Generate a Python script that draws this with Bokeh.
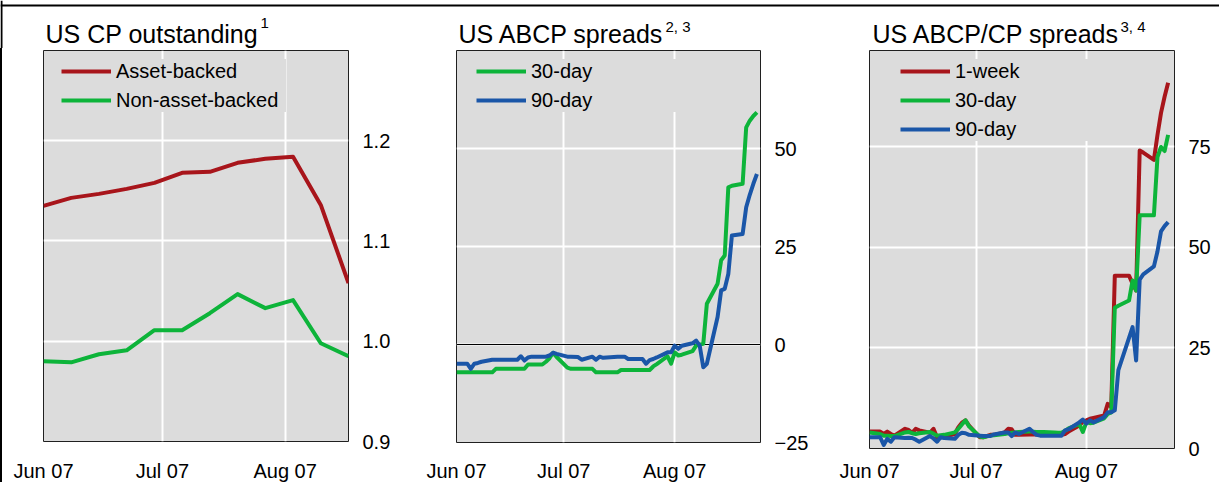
import pandas as pd
from bokeh.plotting import figure
from bokeh.models import (Range1d, FixedTicker, DatetimeTickFormatter, Legend,
                          LegendItem, Label, Span, ColumnDataSource)
from bokeh.layouts import column, row
from bokeh.embed import file_html
from bokeh.resources import INLINE

# ---------------- data ----------------
weekly_dates = ["2007-06-01", "2007-06-08", "2007-06-15", "2007-06-22", "2007-06-29",
                "2007-07-06", "2007-07-13", "2007-07-20", "2007-07-27", "2007-08-03",
                "2007-08-10", "2007-08-17"]
cp_asset_backed = [1.135, 1.143, 1.147, 1.152, 1.158, 1.168, 1.169, 1.178, 1.182, 1.184, 1.136, 1.058]
cp_non_asset_backed = [0.980, 0.979, 0.987, 0.991, 1.011, 1.011, 1.028, 1.047, 1.033, 1.041, 0.998, 0.985]

daily_dates = ["2007-06-01", "2007-06-04", "2007-06-05", "2007-06-06", "2007-06-07", "2007-06-08",
               "2007-06-11", "2007-06-12", "2007-06-13", "2007-06-14", "2007-06-15",
               "2007-06-18", "2007-06-19", "2007-06-20", "2007-06-21", "2007-06-22",
               "2007-06-25", "2007-06-26", "2007-06-27", "2007-06-28", "2007-06-29",
               "2007-07-02", "2007-07-03", "2007-07-05", "2007-07-06",
               "2007-07-09", "2007-07-10", "2007-07-11", "2007-07-12", "2007-07-13",
               "2007-07-16", "2007-07-17", "2007-07-18", "2007-07-19", "2007-07-20",
               "2007-07-23", "2007-07-24", "2007-07-25", "2007-07-26", "2007-07-27",
               "2007-07-30", "2007-07-31", "2007-08-01", "2007-08-02", "2007-08-03",
               "2007-08-06", "2007-08-07", "2007-08-08", "2007-08-09", "2007-08-10",
               "2007-08-13", "2007-08-14", "2007-08-15", "2007-08-16", "2007-08-17",
               "2007-08-20", "2007-08-21", "2007-08-22", "2007-08-23", "2007-08-24"]

abcp_spread_30d = [-7.1, -7.1, -7.1, -7.1, -7.1, -7.1, -7.1, -6.2, -6.2, -6.2, -6.2,
                   -6.2, -6.2, -6.2, -5.1, -5.1, -5.1, -4.4, -3.5, -2.1, -3.2,
                   -5.9, -6.2, -6.2, -6.2, -6.2, -7.1, -7.1, -7.1, -7.1,
                   -7.1, -6.5, -6.5, -6.5, -6.5, -6.5, -6.5, -6.5, -5.6, -5.0,
                   -3.0, -4.9, -2.0, -2.8, -2.6, -1.7, -0.3, 0.0, 0.2, 10.4,
                   15.5, 21.5, 22.7, 40.1, 40.5, 41.0, 55.4, 57.1, 58.3, 59.2]
abcp_spread_90d = [-4.9, -4.9, -6.2, -4.9, -4.7, -4.4, -3.9, -3.9, -3.9, -3.9, -3.9,
                   -3.9, -3.0, -4.1, -3.3, -3.1, -3.1, -3.1, -2.8, -2.1, -2.4,
                   -3.1, -3.1, -3.2, -3.9, -3.1, -3.9, -3.1, -3.4, -3.3,
                   -3.1, -3.1, -3.1, -3.7, -3.7, -3.7, -4.9, -4.0, -3.7, -3.3,
                   -2.0, -2.0, -0.3, -1.1, -0.3, 0.3, 1.0, -0.3, -5.8, -4.9,
                   7.0, 13.8, 14.2, 18.0, 27.8, 28.2, 35.0, 38.2, 41.0, 43.5]

abcp_cp_1w = [4.2, 4.2, 3.6, 4.2, 3.6, 3.2, 4.9, 4.6, 3.9, 4.9, 4.5,
              3.9, 4.9, 2.8, 2.8, 3.0, 3.6, 5.3, 6.4, 7.0, 5.7,
              2.8, 2.8, 3.4, 3.4, 4.0, 4.9, 4.8, 3.4, 3.4,
              3.5, 3.5, 3.5, 3.5, 3.5, 3.4, 3.4, 3.4, 3.6, 4.2,
              5.7, 6.7, 7.0, 7.4, 7.6, 8.2, 11.1, 10.3, 43.0, 43.0,
              43.0, 41.0, 39.3, 74.1, 73.6, 71.8, 78.0, 83.5, 87.5, 91.0]
abcp_cp_30d = [4.0, 3.6, 3.2, 3.2, 3.1, 3.1, 4.0, 4.1, 3.8, 3.6, 3.8,
               4.1, 3.7, 3.2, 3.3, 3.4, 4.0, 4.9, 6.0, 7.0, 5.5,
               3.0, 2.8, 3.2, 3.3, 3.6, 3.8, 3.9, 4.0, 4.1,
               4.2, 4.2, 4.1, 4.1, 4.1, 4.0, 3.9, 3.9, 4.4, 5.0,
               6.1, 4.1, 6.5, 6.3, 6.4, 7.5, 8.6, 9.0, 35.0, 35.5,
               36.8, 41.8, 39.3, 58.0, 58.0, 58.0, 72.5, 75.0, 74.0, 78.0]
abcp_cp_90d = [2.8, 2.8, 0.9, 2.4, 1.7, 2.8, 2.6, 2.7, 2.6, 2.2, 1.7,
               3.1, 2.5, 1.7, 2.8, 2.6, 2.4, 3.4, 3.9, 3.8, 3.4,
               3.2, 3.1, 3.1, 3.5, 4.0, 4.0, 3.1, 4.0, 3.6,
               4.9, 4.1, 3.4, 3.2, 3.2, 3.2, 3.2, 3.2, 4.5, 4.8,
               6.5, 7.2, 6.2, 7.0, 6.5, 7.8, 9.0, 9.0, 9.5, 19.5,
               27.5, 30.2, 21.9, 42.0, 43.3, 45.3, 49.0, 54.0, 55.3, 56.3]

x_tick_dates = ["2007-06-01", "2007-07-01", "2007-08-01"]

titles = ["US CP outstanding", "US ABCP spreads", "US ABCP/CP spreads"]
title_notes = ["1", "2, 3", "3, 4"]

# ---------------- style ----------------
FONT = "Liberation Sans"
BG = "#dcdcdc"
RED = "#a8151b"
GREEN = "#0db43a"
BLUE = "#1a56a8"
HEADER_H = 48


def to_ms(s):
    return (pd.Timestamp(s) - pd.Timestamp("1970-01-01")).total_seconds() * 1000.0


x_ticks = [to_ms(d) for d in x_tick_dates]
fmt = DatetimeTickFormatter(days="%b %y", months="%b %y", years="%b %y",
                            hours="%b %y", minutes="%b %y")


def make_panel(fw, fh, bl, br, bb, x_end, y_start, y_end, y_ticks, x_standoff,
               overrides=None):
    p = figure(frame_width=fw, frame_height=fh, min_border_left=bl, min_border_right=br,
               min_border_top=2, min_border_bottom=bb, x_axis_type="datetime",
               y_axis_location="right", toolbar_location=None, output_backend="svg",
               title=None,
               x_range=Range1d(pd.Timestamp("2007-06-01"), x_end),
               y_range=Range1d(y_start, y_end))
    p.background_fill_color = BG
    p.border_fill_color = "white"
    p.outline_line_color = "#202020"
    p.outline_line_width = 1

    xt = FixedTicker(ticks=x_ticks)
    yt = FixedTicker(ticks=y_ticks)
    p.xaxis.ticker = xt
    p.xgrid.ticker = xt
    p.yaxis.ticker = yt
    p.ygrid.ticker = yt
    p.xaxis.formatter = fmt
    for ax in (p.xaxis, p.yaxis):
        ax.axis_line_color = None
        ax.major_tick_line_color = None
        ax.minor_tick_line_color = None
        ax.major_tick_out = 0
        ax.major_tick_in = 0
        ax.major_label_text_font = FONT
        ax.major_label_text_font_size = "20px"
        ax.major_label_text_color = "black"
    p.xaxis.major_label_standoff = x_standoff
    p.yaxis.major_label_standoff = 14
    if overrides:
        p.yaxis.major_label_overrides = overrides
    for g in (p.xgrid, p.ygrid):
        g.grid_line_color = "white"
        g.grid_line_width = 2
    return p


def add_legend(p, items, fh, vx):
    n = len(items)
    h = 2 * 2 + n * 24 + (n - 1) * 5
    leg = Legend(items=[LegendItem(label=lab, renderers=[r]) for lab, r in items],
                 location=(vx, fh - 5 - h), padding=2, spacing=5, margin=0,
                 glyph_width=50, glyph_height=24, label_height=24, label_width=170,
                 label_standoff=5, background_fill_color=BG, background_fill_alpha=1.0,
                 border_line_color=None, label_text_font=FONT,
                 label_text_font_size="20px", label_text_color="black")
    p.add_layout(leg)


# ---------------- header strip (titles + frame rule) ----------------
header = figure(width=1219, height=HEADER_H, min_border=0, toolbar_location=None,
                output_backend="svg", title=None,
                x_range=Range1d(0, 1), y_range=Range1d(0, 1))
header.axis.visible = False
header.grid.visible = False
header.outline_line_color = None
header.background_fill_color = "white"
header.border_fill_color = "white"
header.add_layout(Span(location=HEADER_H - 5, location_units="screen", dimension="width",
                       line_color="black", line_width=2))
header.add_layout(Span(location=1, location_units="screen", dimension="height",
                       line_color="black", line_width=2))
title_x = [45, 458, 872]
note_x = [260, 665, 1120]
for t, n, tx, nx in zip(titles, title_notes, title_x, note_x):
    header.add_layout(Label(x=tx, y=HEADER_H - 19, x_units="screen", y_units="screen",
                            text=t, text_font=FONT, text_font_size="25px",
                            text_baseline="top", text_color="black"))
    header.add_layout(Label(x=nx, y=HEADER_H - 17, x_units="screen", y_units="screen",
                            text=n, text_font=FONT, text_font_size="15px",
                            text_baseline="top", text_color="black"))

# Panel 1
wk = pd.to_datetime(weekly_dates)
p1 = make_panel(305, 391, 41, 72, 41, pd.Timestamp("2007-08-17"), 0.9, 1.29,
                [0.9, 1.0, 1.1, 1.2], 18,
                overrides={0.9: "0.9", 1.0: "1.0", 1.1: "1.1", 1.2: "1.2"})
src1 = ColumnDataSource(dict(x=wk, ab=cp_asset_backed, nab=cp_non_asset_backed))
r_ab = p1.line("x", "ab", source=src1, line_color=RED, line_width=4, line_join="round")
r_nab = p1.line("x", "nab", source=src1, line_color=GREEN, line_width=4, line_join="round")
add_legend(p1, [("Asset-backed", r_ab), ("Non-asset-backed", r_nab)], 391, 18)

# Panel 2
dd = pd.to_datetime(daily_dates)
p2 = make_panel(304, 392, 36, 73, 40, pd.Timestamp("2007-08-25"), -25, 75,
                [-25, 0, 25, 50], 17, overrides={-25: "\u221225"})
p2.add_layout(Span(location=0, dimension="width", line_color="black", line_width=1,
                   level="underlay"))
src2 = ColumnDataSource(dict(x=dd, d30=abcp_spread_30d, d90=abcp_spread_90d))
r2_30 = p2.line("x", "d30", source=src2, line_color=GREEN, line_width=4, line_join="round")
r2_90 = p2.line("x", "d90", source=src2, line_color=BLUE, line_width=4, line_join="round")
add_legend(p2, [("30-day", r2_30), ("90-day", r2_90)], 392, 20)

# Panel 3
p3 = make_panel(305, 398, 36, 45, 34, pd.Timestamp("2007-08-25 19:00"), 0, 99,
                [0, 25, 50, 75], 11)
src3 = ColumnDataSource(dict(x=dd, w1=abcp_cp_1w, d30=abcp_cp_30d, d90=abcp_cp_90d))
r3_1w = p3.line("x", "w1", source=src3, line_color=RED, line_width=4, line_join="round")
r3_30 = p3.line("x", "d30", source=src3, line_color=GREEN, line_width=4, line_join="round")
r3_90 = p3.line("x", "d90", source=src3, line_color=BLUE, line_width=4, line_join="round")
add_legend(p3, [("1-week", r3_1w), ("30-day", r3_30), ("90-day", r3_90)], 398, 31)

panels = row(p1, p2, p3, styles={"border-left": "2px solid black"})

layout = column(header, panels)

open("out.html", "w").write(file_html(layout, INLINE))
